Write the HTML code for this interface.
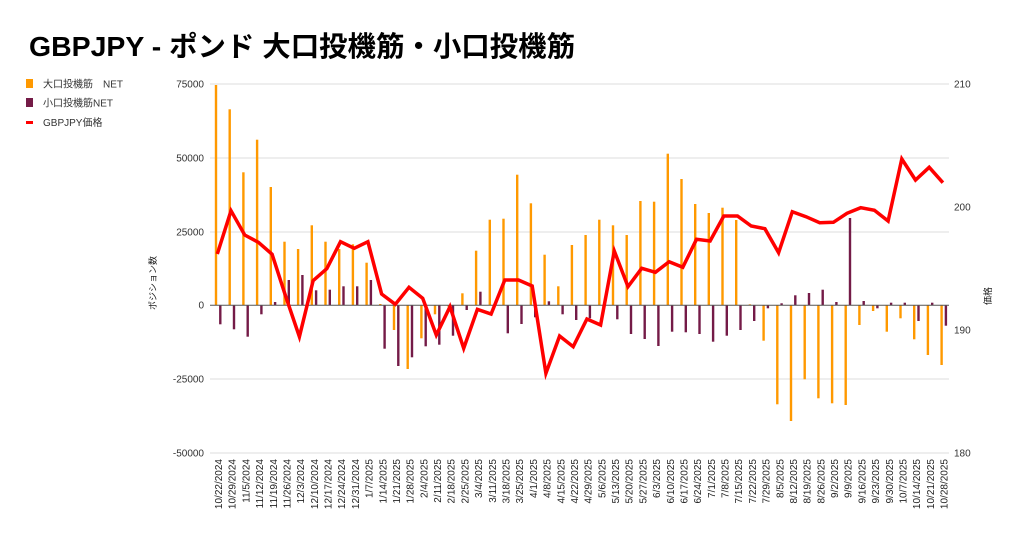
<!DOCTYPE html>
<html><head><meta charset="utf-8"><style>
html,body{margin:0;padding:0;background:#fff}
svg{display:block;font-family:"Liberation Sans","Noto Sans CJK JP",sans-serif}
</style></head><body>
<svg width="1024" height="536" viewBox="0 0 1024 536" xmlns="http://www.w3.org/2000/svg">
<text x="29" y="56" font-size="28" font-weight="bold" fill="#000" textLength="546" lengthAdjust="spacingAndGlyphs">GBPJPY - ポンド 大口投機筋・小口投機筋</text>
<rect x="26" y="79" width="7" height="9" fill="#ff9900"/>
<text x="43" y="87.5" font-size="10" fill="#333">大口投機筋　NET</text>
<rect x="26" y="98" width="7" height="9" fill="#741b47"/>
<text x="43" y="106.5" font-size="10" fill="#333">小口投機筋NET</text>
<rect x="26" y="121" width="7" height="3" fill="#ff0000"/>
<text x="43" y="126" font-size="10" fill="#333">GBPJPY価格</text>
<g stroke="#dddddd" stroke-width="1">
<line x1="210" y1="84" x2="949" y2="84"/><line x1="210" y1="158" x2="949" y2="158"/><line x1="210" y1="232" x2="949" y2="232"/><line x1="210" y1="379" x2="949" y2="379"/><line x1="210" y1="453" x2="949" y2="453"/>
</g>
<g font-size="10" fill="#333" text-anchor="end">
<text x="204" y="87.5">75000</text><text x="204" y="161.5">50000</text><text x="204" y="235.5">25000</text><text x="204" y="308.5">0</text><text x="204" y="382.5">-25000</text><text x="204" y="456.5">-50000</text>
</g>
<g font-size="10" fill="#333">
<text x="954" y="87.5">210</text><text x="954" y="210.5">200</text><text x="954" y="333.5">190</text><text x="954" y="456.5">180</text>
</g>
<text transform="translate(156,283) rotate(-90)" font-size="9" fill="#222" text-anchor="middle">ポジション数</text>
<text transform="translate(991,296) rotate(-90)" font-size="9" fill="#222" text-anchor="middle">価格</text>
<g fill="#ff9900">
<rect x="214.8" y="85" width="2.4" height="220.3"/>
<rect x="228.5" y="109.3" width="2.4" height="196"/>
<rect x="242.2" y="172.3" width="2.4" height="133"/>
<rect x="255.9" y="139.7" width="2.4" height="165.6"/>
<rect x="269.6" y="187" width="2.4" height="118.3"/>
<rect x="283.3" y="241.7" width="2.4" height="63.6"/>
<rect x="296.9" y="249" width="2.4" height="56.3"/>
<rect x="310.6" y="225.3" width="2.4" height="80"/>
<rect x="324.3" y="241.7" width="2.4" height="63.6"/>
<rect x="338.0" y="249" width="2.4" height="56.3"/>
<rect x="351.7" y="244.3" width="2.4" height="61"/>
<rect x="365.4" y="262.7" width="2.4" height="42.6"/>
<rect x="379.1" y="304" width="2.4" height="1.3"/>
<rect x="392.8" y="305.3" width="2.4" height="24.7"/>
<rect x="406.5" y="305.3" width="2.4" height="63.7"/>
<rect x="420.2" y="305.3" width="2.4" height="33"/>
<rect x="433.8" y="305.3" width="2.4" height="9"/>
<rect x="447.5" y="305.3" width="2.4" height="1.5"/>
<rect x="461.2" y="293.3" width="2.4" height="12"/>
<rect x="474.9" y="250.7" width="2.4" height="54.6"/>
<rect x="488.6" y="219.7" width="2.4" height="85.6"/>
<rect x="502.3" y="218.7" width="2.4" height="86.6"/>
<rect x="516.0" y="174.7" width="2.4" height="130.6"/>
<rect x="529.7" y="203.3" width="2.4" height="102"/>
<rect x="543.4" y="254.7" width="2.4" height="50.6"/>
<rect x="557.1" y="286.3" width="2.4" height="19"/>
<rect x="570.7" y="245" width="2.4" height="60.3"/>
<rect x="584.4" y="235" width="2.4" height="70.3"/>
<rect x="598.1" y="219.7" width="2.4" height="85.6"/>
<rect x="611.8" y="225.3" width="2.4" height="80"/>
<rect x="625.5" y="235" width="2.4" height="70.3"/>
<rect x="639.2" y="201" width="2.4" height="104.3"/>
<rect x="652.9" y="201.7" width="2.4" height="103.6"/>
<rect x="666.6" y="153.7" width="2.4" height="151.6"/>
<rect x="680.3" y="179" width="2.4" height="126.3"/>
<rect x="694.0" y="204" width="2.4" height="101.3"/>
<rect x="707.6" y="213" width="2.4" height="92.3"/>
<rect x="721.3" y="207.7" width="2.4" height="97.6"/>
<rect x="735.0" y="220" width="2.4" height="85.3"/>
<rect x="748.7" y="304.3" width="2.4" height="1"/>
<rect x="762.4" y="305.3" width="2.4" height="35.4"/>
<rect x="776.1" y="305.3" width="2.4" height="99"/>
<rect x="789.8" y="305.3" width="2.4" height="115.7"/>
<rect x="803.5" y="305.3" width="2.4" height="74"/>
<rect x="817.2" y="305.3" width="2.4" height="93"/>
<rect x="830.9" y="305.3" width="2.4" height="98"/>
<rect x="844.5" y="305.3" width="2.4" height="99.7"/>
<rect x="858.2" y="305.3" width="2.4" height="19.7"/>
<rect x="871.9" y="305.3" width="2.4" height="5.7"/>
<rect x="885.6" y="305.3" width="2.4" height="26.4"/>
<rect x="899.3" y="305.3" width="2.4" height="13"/>
<rect x="913.0" y="305.3" width="2.4" height="34"/>
<rect x="926.7" y="305.3" width="2.4" height="49.7"/>
<rect x="940.4" y="305.3" width="2.4" height="59.7"/>
</g>
<g fill="#741b47">
<rect x="219.1" y="305.3" width="2.4" height="19"/>
<rect x="232.8" y="305.3" width="2.4" height="24"/>
<rect x="246.5" y="305.3" width="2.4" height="31.4"/>
<rect x="260.2" y="305.3" width="2.4" height="9"/>
<rect x="273.9" y="302" width="2.4" height="3.3"/>
<rect x="287.6" y="280" width="2.4" height="25.3"/>
<rect x="301.2" y="275" width="2.4" height="30.3"/>
<rect x="314.9" y="290.3" width="2.4" height="15"/>
<rect x="328.6" y="289.7" width="2.4" height="15.6"/>
<rect x="342.3" y="286.3" width="2.4" height="19"/>
<rect x="356.0" y="286.3" width="2.4" height="19"/>
<rect x="369.7" y="280" width="2.4" height="25.3"/>
<rect x="383.4" y="305.3" width="2.4" height="43.4"/>
<rect x="397.1" y="305.3" width="2.4" height="60.7"/>
<rect x="410.8" y="305.3" width="2.4" height="52"/>
<rect x="424.5" y="305.3" width="2.4" height="41"/>
<rect x="438.1" y="305.3" width="2.4" height="39.4"/>
<rect x="451.8" y="305.3" width="2.4" height="30.4"/>
<rect x="465.5" y="305.3" width="2.4" height="4.7"/>
<rect x="479.2" y="291.7" width="2.4" height="13.6"/>
<rect x="506.6" y="305.3" width="2.4" height="28"/>
<rect x="520.3" y="305.3" width="2.4" height="18.7"/>
<rect x="534.0" y="305.3" width="2.4" height="12"/>
<rect x="547.7" y="301.3" width="2.4" height="4"/>
<rect x="561.4" y="305.3" width="2.4" height="9"/>
<rect x="575.0" y="305.3" width="2.4" height="14.7"/>
<rect x="588.7" y="305.3" width="2.4" height="13"/>
<rect x="602.4" y="305.3" width="2.4" height="6"/>
<rect x="616.1" y="305.3" width="2.4" height="14"/>
<rect x="629.8" y="305.3" width="2.4" height="28.7"/>
<rect x="643.5" y="305.3" width="2.4" height="33.7"/>
<rect x="657.2" y="305.3" width="2.4" height="40.7"/>
<rect x="670.9" y="305.3" width="2.4" height="26.4"/>
<rect x="684.6" y="305.3" width="2.4" height="27"/>
<rect x="698.3" y="305.3" width="2.4" height="28.7"/>
<rect x="711.9" y="305.3" width="2.4" height="36.4"/>
<rect x="725.6" y="305.3" width="2.4" height="30.4"/>
<rect x="739.3" y="305.3" width="2.4" height="24.7"/>
<rect x="753.0" y="305.3" width="2.4" height="15.7"/>
<rect x="766.7" y="305.3" width="2.4" height="3"/>
<rect x="780.4" y="303.3" width="2.4" height="2"/>
<rect x="794.1" y="295.3" width="2.4" height="10"/>
<rect x="807.8" y="293" width="2.4" height="12.3"/>
<rect x="821.5" y="289.7" width="2.4" height="15.6"/>
<rect x="835.2" y="302" width="2.4" height="3.3"/>
<rect x="848.8" y="218" width="2.4" height="87.3"/>
<rect x="862.5" y="301" width="2.4" height="4.3"/>
<rect x="876.2" y="305.3" width="2.4" height="3"/>
<rect x="889.9" y="302.7" width="2.4" height="2.6"/>
<rect x="903.6" y="302.7" width="2.4" height="2.6"/>
<rect x="917.3" y="305.3" width="2.4" height="15.7"/>
<rect x="931.0" y="302.7" width="2.4" height="2.6"/>
<rect x="944.7" y="305.3" width="2.4" height="20.4"/>
</g>
<line x1="210" y1="305.3" x2="949" y2="305.3" stroke="#555" stroke-width="1"/>
<polyline fill="none" stroke="#ff0000" stroke-width="3.5" stroke-linejoin="miter" points="217.3,254 231,210.7 244.7,235 258.4,242.3 272.1,254.3 285.8,296.7 299.4,336.7 313.1,280.7 326.8,268.7 340.5,241.7 354.2,248.3 367.9,241.7 381.6,294 395.3,304.3 409,287.3 422.7,298.3 436.3,335 450,306.7 463.7,348.3 477.4,309.3 491.1,314 504.8,280 518.5,280 532.2,286 545.9,373.3 559.6,336 573.2,346.7 586.9,319 600.6,325 614.3,251 628,286.7 641.7,268.3 655.4,272.3 669.1,261.7 682.8,267.3 696.5,239.3 710.1,241 723.8,216 737.5,216 751.2,226 764.9,228.7 778.6,252.7 792.3,211.7 806,216.7 819.7,222.7 833.4,222.3 847,213.3 860.7,207.7 874.4,210.3 888.1,221 901.8,159 915.5,180 929.2,167.3 942.9,182.7"/>
<g font-size="10" fill="#222" text-anchor="end">
<text transform="translate(222,459) rotate(-90)">10/22/2024</text>
<text transform="translate(235.7,459) rotate(-90)">10/29/2024</text>
<text transform="translate(249.4,459) rotate(-90)">11/5/2024</text>
<text transform="translate(263.1,459) rotate(-90)">11/12/2024</text>
<text transform="translate(276.8,459) rotate(-90)">11/19/2024</text>
<text transform="translate(290.5,459) rotate(-90)">11/26/2024</text>
<text transform="translate(304.1,459) rotate(-90)">12/3/2024</text>
<text transform="translate(317.8,459) rotate(-90)">12/10/2024</text>
<text transform="translate(331.5,459) rotate(-90)">12/17/2024</text>
<text transform="translate(345.2,459) rotate(-90)">12/24/2024</text>
<text transform="translate(358.9,459) rotate(-90)">12/31/2024</text>
<text transform="translate(372.6,459) rotate(-90)">1/7/2025</text>
<text transform="translate(386.3,459) rotate(-90)">1/14/2025</text>
<text transform="translate(400,459) rotate(-90)">1/21/2025</text>
<text transform="translate(413.7,459) rotate(-90)">1/28/2025</text>
<text transform="translate(427.4,459) rotate(-90)">2/4/2025</text>
<text transform="translate(441,459) rotate(-90)">2/11/2025</text>
<text transform="translate(454.7,459) rotate(-90)">2/18/2025</text>
<text transform="translate(468.4,459) rotate(-90)">2/25/2025</text>
<text transform="translate(482.1,459) rotate(-90)">3/4/2025</text>
<text transform="translate(495.8,459) rotate(-90)">3/11/2025</text>
<text transform="translate(509.5,459) rotate(-90)">3/18/2025</text>
<text transform="translate(523.2,459) rotate(-90)">3/25/2025</text>
<text transform="translate(536.9,459) rotate(-90)">4/1/2025</text>
<text transform="translate(550.6,459) rotate(-90)">4/8/2025</text>
<text transform="translate(564.3,459) rotate(-90)">4/15/2025</text>
<text transform="translate(577.9,459) rotate(-90)">4/22/2025</text>
<text transform="translate(591.6,459) rotate(-90)">4/29/2025</text>
<text transform="translate(605.3,459) rotate(-90)">5/6/2025</text>
<text transform="translate(619,459) rotate(-90)">5/13/2025</text>
<text transform="translate(632.7,459) rotate(-90)">5/20/2025</text>
<text transform="translate(646.4,459) rotate(-90)">5/27/2025</text>
<text transform="translate(660.1,459) rotate(-90)">6/3/2025</text>
<text transform="translate(673.8,459) rotate(-90)">6/10/2025</text>
<text transform="translate(687.5,459) rotate(-90)">6/17/2025</text>
<text transform="translate(701.2,459) rotate(-90)">6/24/2025</text>
<text transform="translate(714.8,459) rotate(-90)">7/1/2025</text>
<text transform="translate(728.5,459) rotate(-90)">7/8/2025</text>
<text transform="translate(742.2,459) rotate(-90)">7/15/2025</text>
<text transform="translate(755.9,459) rotate(-90)">7/22/2025</text>
<text transform="translate(769.6,459) rotate(-90)">7/29/2025</text>
<text transform="translate(783.3,459) rotate(-90)">8/5/2025</text>
<text transform="translate(797,459) rotate(-90)">8/12/2025</text>
<text transform="translate(810.7,459) rotate(-90)">8/19/2025</text>
<text transform="translate(824.4,459) rotate(-90)">8/26/2025</text>
<text transform="translate(838.1,459) rotate(-90)">9/2/2025</text>
<text transform="translate(851.7,459) rotate(-90)">9/9/2025</text>
<text transform="translate(865.4,459) rotate(-90)">9/16/2025</text>
<text transform="translate(879.1,459) rotate(-90)">9/23/2025</text>
<text transform="translate(892.8,459) rotate(-90)">9/30/2025</text>
<text transform="translate(906.5,459) rotate(-90)">10/7/2025</text>
<text transform="translate(920.2,459) rotate(-90)">10/14/2025</text>
<text transform="translate(933.9,459) rotate(-90)">10/21/2025</text>
<text transform="translate(947.6,459) rotate(-90)">10/28/2025</text>
</g>
</svg>
</body></html>
